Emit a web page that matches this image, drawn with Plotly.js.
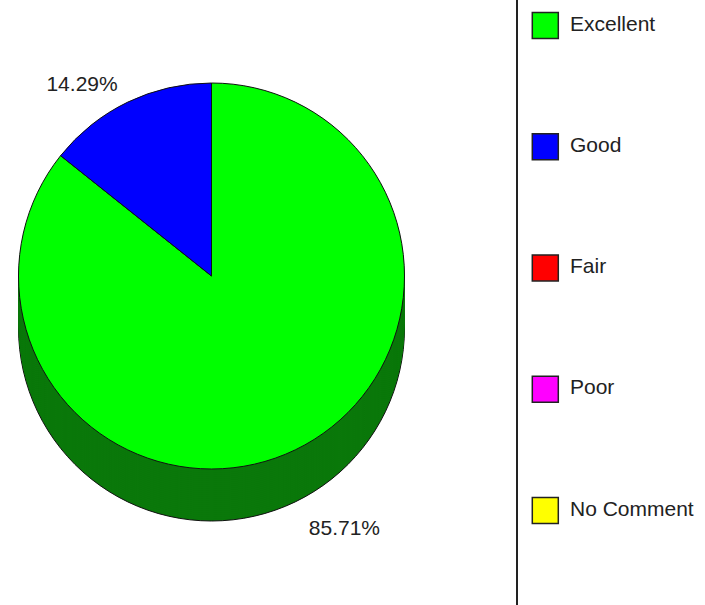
<!DOCTYPE html>
<html><head><meta charset="utf-8">
<script src="https://cdn.plot.ly/plotly-3.0.1.min.js"></script>
<style>html,body{margin:0;padding:0;background:#fff;} #chart{width:705px;height:605px;}</style>
</head><body><div id="chart"></div>
<script>
// ---- data ----
const categories = ['Excellent', 'Good', 'Fair', 'Poor', 'No Comment'];
const values = [6, 1, 0, 0, 0];
const topColors = ['#00ff00', '#0000ff', '#ff0000', '#ff00ff', '#ffff00'];
const sideColors = ['#0a780a', '#000090', '#900000', '#900090', '#909000'];

// ---- geometry / style ----
const W = 705, H = 605;
const cx = 211.5, cy = 276, r = 193, depth = 52, step = 2;
const total = values.reduce((a, b) => a + b, 0);
const pctText = values.map(v => (v / total * 100).toFixed(2) + '%');

function dom(off, rad) {
  return { x: [(cx - rad) / W, (cx + rad) / W], y: [1 - (cy + off + rad) / H, 1 - (cy + off - rad) / H] };
}
function basePie(off, rad) {
  return {
    type: 'pie', labels: categories, values: values, sort: false,
    direction: 'clockwise', rotation: 0, showlegend: false, hoverinfo: 'skip',
    textinfo: 'none', domain: dom(off, rad)
  };
}
function labelPie(off, rad, idx) {
  const t = basePie(off, rad);
  t.marker = { colors: categories.map(() => 'rgba(0,0,0,0)'), line: { width: 0 } };
  t.textinfo = 'text';
  t.text = pctText.map((s, i) => i === idx ? s : '');
  t.textposition = categories.map((c, i) => i === idx ? 'outside' : 'none');
  t.outsidetextfont = { size: 21, color: '#222' };
  return t;
}

const traces = [];
// extruded side (stacked darker pies)
for (let off = depth; off > 0; off -= step) {
  const t = basePie(off, r);
  t.marker = { colors: sideColors, line: off === depth ? { color: '#111', width: 1 } : { color: sideColors, width: 0 } };
  traces.push(t);
}
// top face
const topPie = basePie(0, r);
topPie.marker = { colors: topColors, line: { color: '#111', width: 1 } };
traces.push(topPie);
// percentage labels
traces.push(labelPie(0, r + 10, 1));
traces.push(labelPie(depth, r + 18, 0));

// legend drawn as a scatter column
const legendMarkerX = 0.146, legendTextX = 0.278;
traces.push({
  type: 'scatter', mode: 'markers', xaxis: 'x', yaxis: 'y',
  x: categories.map(() => legendMarkerX), y: categories,
  marker: { symbol: 'square', size: 26, color: topColors, line: { color: '#222', width: 1.5 } },
  hoverinfo: 'skip', showlegend: false, cliponaxis: false
});
traces.push({
  type: 'scatter', mode: 'text', xaxis: 'x', yaxis: 'y',
  x: categories.map(() => legendTextX), y: categories,
  text: categories, textposition: 'middle right',
  textfont: { size: 21, color: '#222' },
  hoverinfo: 'skip', showlegend: false, cliponaxis: false
});

const layout = {
  width: W, height: H,
  margin: { l: 0, r: 0, t: 0, b: 0 },
  paper_bgcolor: '#ffffff', plot_bgcolor: 'rgba(0,0,0,0)',
  font: { family: 'Liberation Sans, Arial, sans-serif', size: 21, color: '#222' },
  showlegend: false,
  xaxis: { domain: [518 / W, 1], range: [0, 1], showgrid: false, zeroline: false, showticklabels: false, ticks: '', showline: false, fixedrange: true },
  yaxis: { domain: [0, 1], type: 'category', range: [4.78, -0.21], showgrid: false, zeroline: false,
           showticklabels: false, ticks: '', showline: true, linecolor: '#222', linewidth: 2, fixedrange: true }
};

Plotly.newPlot('chart', traces, layout, { displayModeBar: false, staticPlot: true });
</script>
</body></html>
